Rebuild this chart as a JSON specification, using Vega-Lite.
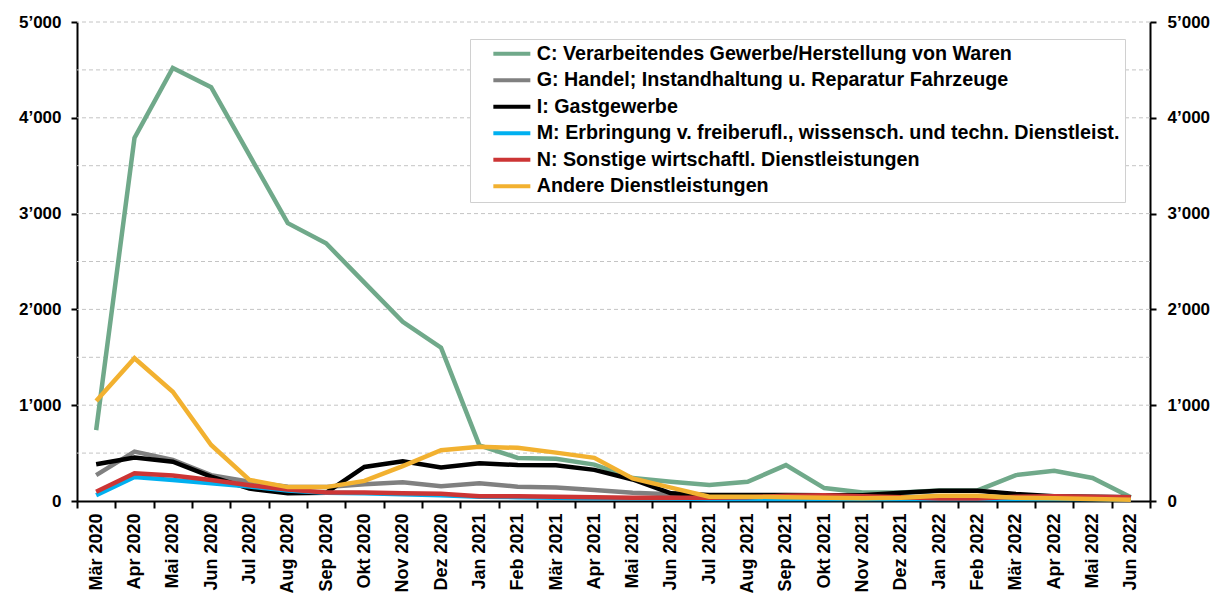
{
  "$schema": "https://vega.github.io/schema/vega-lite/v6.json",
  "width": 1073,
  "height": 479,
  "autosize": {"type": "none"},
  "padding": {"left": 77, "top": 22, "right": 77, "bottom": 95},
  "background": "white",
  "config": {
    "view": {"stroke": null},
    "font": "Liberation Sans",
    "axis": {"labelFont": "Liberation Sans", "labelFontWeight": "bold", "labelColor": "black", "domainColor": "black", "domainWidth": 2, "tickColor": "black", "tickWidth": 2, "grid": false, "title": null},
    "legend": {"labelFont": "Liberation Sans", "labelFontWeight": "bold", "labelFontSize": 19.7, "labelColor": "black"}
  },
  "datasets": {
    "grid": [{"v": 500}, {"v": 1000}, {"v": 1500}, {"v": 2000}, {"v": 2500}, {"v": 3000}, {"v": 3500}, {"v": 4000}, {"v": 4500}, {"v": 5000}],
    "main": [
      {"s": "C: Verarbeitendes Gewerbe/Herstellung von Waren", "m": "Mär 2020", "v": 740},
      {"s": "C: Verarbeitendes Gewerbe/Herstellung von Waren", "m": "Apr 2020", "v": 3790},
      {"s": "C: Verarbeitendes Gewerbe/Herstellung von Waren", "m": "Mai 2020", "v": 4520},
      {"s": "C: Verarbeitendes Gewerbe/Herstellung von Waren", "m": "Jun 2020", "v": 4320},
      {"s": "C: Verarbeitendes Gewerbe/Herstellung von Waren", "m": "Jul 2020", "v": 3610},
      {"s": "C: Verarbeitendes Gewerbe/Herstellung von Waren", "m": "Aug 2020", "v": 2900},
      {"s": "C: Verarbeitendes Gewerbe/Herstellung von Waren", "m": "Sep 2020", "v": 2690},
      {"s": "C: Verarbeitendes Gewerbe/Herstellung von Waren", "m": "Okt 2020", "v": 2280},
      {"s": "C: Verarbeitendes Gewerbe/Herstellung von Waren", "m": "Nov 2020", "v": 1870},
      {"s": "C: Verarbeitendes Gewerbe/Herstellung von Waren", "m": "Dez 2020", "v": 1600},
      {"s": "C: Verarbeitendes Gewerbe/Herstellung von Waren", "m": "Jan 2021", "v": 580},
      {"s": "C: Verarbeitendes Gewerbe/Herstellung von Waren", "m": "Feb 2021", "v": 450},
      {"s": "C: Verarbeitendes Gewerbe/Herstellung von Waren", "m": "Mär 2021", "v": 440},
      {"s": "C: Verarbeitendes Gewerbe/Herstellung von Waren", "m": "Apr 2021", "v": 380},
      {"s": "C: Verarbeitendes Gewerbe/Herstellung von Waren", "m": "Mai 2021", "v": 240},
      {"s": "C: Verarbeitendes Gewerbe/Herstellung von Waren", "m": "Jun 2021", "v": 200},
      {"s": "C: Verarbeitendes Gewerbe/Herstellung von Waren", "m": "Jul 2021", "v": 167},
      {"s": "C: Verarbeitendes Gewerbe/Herstellung von Waren", "m": "Aug 2021", "v": 200},
      {"s": "C: Verarbeitendes Gewerbe/Herstellung von Waren", "m": "Sep 2021", "v": 375},
      {"s": "C: Verarbeitendes Gewerbe/Herstellung von Waren", "m": "Okt 2021", "v": 135},
      {"s": "C: Verarbeitendes Gewerbe/Herstellung von Waren", "m": "Nov 2021", "v": 90},
      {"s": "C: Verarbeitendes Gewerbe/Herstellung von Waren", "m": "Dez 2021", "v": 90},
      {"s": "C: Verarbeitendes Gewerbe/Herstellung von Waren", "m": "Jan 2022", "v": 110},
      {"s": "C: Verarbeitendes Gewerbe/Herstellung von Waren", "m": "Feb 2022", "v": 110},
      {"s": "C: Verarbeitendes Gewerbe/Herstellung von Waren", "m": "Mär 2022", "v": 270},
      {"s": "C: Verarbeitendes Gewerbe/Herstellung von Waren", "m": "Apr 2022", "v": 315},
      {"s": "C: Verarbeitendes Gewerbe/Herstellung von Waren", "m": "Mai 2022", "v": 240},
      {"s": "C: Verarbeitendes Gewerbe/Herstellung von Waren", "m": "Jun 2022", "v": 40},
      {"s": "G: Handel; Instandhaltung u. Reparatur Fahrzeuge", "m": "Mär 2020", "v": 270},
      {"s": "G: Handel; Instandhaltung u. Reparatur Fahrzeuge", "m": "Apr 2020", "v": 515},
      {"s": "G: Handel; Instandhaltung u. Reparatur Fahrzeuge", "m": "Mai 2020", "v": 430},
      {"s": "G: Handel; Instandhaltung u. Reparatur Fahrzeuge", "m": "Jun 2020", "v": 270},
      {"s": "G: Handel; Instandhaltung u. Reparatur Fahrzeuge", "m": "Jul 2020", "v": 200},
      {"s": "G: Handel; Instandhaltung u. Reparatur Fahrzeuge", "m": "Aug 2020", "v": 150},
      {"s": "G: Handel; Instandhaltung u. Reparatur Fahrzeuge", "m": "Sep 2020", "v": 145},
      {"s": "G: Handel; Instandhaltung u. Reparatur Fahrzeuge", "m": "Okt 2020", "v": 175},
      {"s": "G: Handel; Instandhaltung u. Reparatur Fahrzeuge", "m": "Nov 2020", "v": 195},
      {"s": "G: Handel; Instandhaltung u. Reparatur Fahrzeuge", "m": "Dez 2020", "v": 155},
      {"s": "G: Handel; Instandhaltung u. Reparatur Fahrzeuge", "m": "Jan 2021", "v": 185},
      {"s": "G: Handel; Instandhaltung u. Reparatur Fahrzeuge", "m": "Feb 2021", "v": 150},
      {"s": "G: Handel; Instandhaltung u. Reparatur Fahrzeuge", "m": "Mär 2021", "v": 140},
      {"s": "G: Handel; Instandhaltung u. Reparatur Fahrzeuge", "m": "Apr 2021", "v": 115},
      {"s": "G: Handel; Instandhaltung u. Reparatur Fahrzeuge", "m": "Mai 2021", "v": 87},
      {"s": "G: Handel; Instandhaltung u. Reparatur Fahrzeuge", "m": "Jun 2021", "v": 70},
      {"s": "G: Handel; Instandhaltung u. Reparatur Fahrzeuge", "m": "Jul 2021", "v": 45},
      {"s": "G: Handel; Instandhaltung u. Reparatur Fahrzeuge", "m": "Aug 2021", "v": 40},
      {"s": "G: Handel; Instandhaltung u. Reparatur Fahrzeuge", "m": "Sep 2021", "v": 40},
      {"s": "G: Handel; Instandhaltung u. Reparatur Fahrzeuge", "m": "Okt 2021", "v": 40},
      {"s": "G: Handel; Instandhaltung u. Reparatur Fahrzeuge", "m": "Nov 2021", "v": 45},
      {"s": "G: Handel; Instandhaltung u. Reparatur Fahrzeuge", "m": "Dez 2021", "v": 40},
      {"s": "G: Handel; Instandhaltung u. Reparatur Fahrzeuge", "m": "Jan 2022", "v": 45},
      {"s": "G: Handel; Instandhaltung u. Reparatur Fahrzeuge", "m": "Feb 2022", "v": 45},
      {"s": "G: Handel; Instandhaltung u. Reparatur Fahrzeuge", "m": "Mär 2022", "v": 40},
      {"s": "G: Handel; Instandhaltung u. Reparatur Fahrzeuge", "m": "Apr 2022", "v": 40},
      {"s": "G: Handel; Instandhaltung u. Reparatur Fahrzeuge", "m": "Mai 2022", "v": 40},
      {"s": "G: Handel; Instandhaltung u. Reparatur Fahrzeuge", "m": "Jun 2022", "v": 35},
      {"s": "I: Gastgewerbe", "m": "Mär 2020", "v": 383},
      {"s": "I: Gastgewerbe", "m": "Apr 2020", "v": 455},
      {"s": "I: Gastgewerbe", "m": "Mai 2020", "v": 410},
      {"s": "I: Gastgewerbe", "m": "Jun 2020", "v": 255},
      {"s": "I: Gastgewerbe", "m": "Jul 2020", "v": 130},
      {"s": "I: Gastgewerbe", "m": "Aug 2020", "v": 80},
      {"s": "I: Gastgewerbe", "m": "Sep 2020", "v": 85},
      {"s": "I: Gastgewerbe", "m": "Okt 2020", "v": 355},
      {"s": "I: Gastgewerbe", "m": "Nov 2020", "v": 415},
      {"s": "I: Gastgewerbe", "m": "Dez 2020", "v": 350},
      {"s": "I: Gastgewerbe", "m": "Jan 2021", "v": 395},
      {"s": "I: Gastgewerbe", "m": "Feb 2021", "v": 375},
      {"s": "I: Gastgewerbe", "m": "Mär 2021", "v": 373},
      {"s": "I: Gastgewerbe", "m": "Apr 2021", "v": 325},
      {"s": "I: Gastgewerbe", "m": "Mai 2021", "v": 225},
      {"s": "I: Gastgewerbe", "m": "Jun 2021", "v": 80},
      {"s": "I: Gastgewerbe", "m": "Jul 2021", "v": 62},
      {"s": "I: Gastgewerbe", "m": "Aug 2021", "v": 62},
      {"s": "I: Gastgewerbe", "m": "Sep 2021", "v": 62},
      {"s": "I: Gastgewerbe", "m": "Okt 2021", "v": 60},
      {"s": "I: Gastgewerbe", "m": "Nov 2021", "v": 60},
      {"s": "I: Gastgewerbe", "m": "Dez 2021", "v": 87},
      {"s": "I: Gastgewerbe", "m": "Jan 2022", "v": 108},
      {"s": "I: Gastgewerbe", "m": "Feb 2022", "v": 108},
      {"s": "I: Gastgewerbe", "m": "Mär 2022", "v": 73},
      {"s": "I: Gastgewerbe", "m": "Apr 2022", "v": 50},
      {"s": "I: Gastgewerbe", "m": "Mai 2022", "v": 45},
      {"s": "I: Gastgewerbe", "m": "Jun 2022", "v": 40},
      {"s": "M: Erbringung v. freiberufl., wissensch. und techn. Dienstleist.", "m": "Mär 2020", "v": 60},
      {"s": "M: Erbringung v. freiberufl., wissensch. und techn. Dienstleist.", "m": "Apr 2020", "v": 250},
      {"s": "M: Erbringung v. freiberufl., wissensch. und techn. Dienstleist.", "m": "Mai 2020", "v": 220},
      {"s": "M: Erbringung v. freiberufl., wissensch. und techn. Dienstleist.", "m": "Jun 2020", "v": 185},
      {"s": "M: Erbringung v. freiberufl., wissensch. und techn. Dienstleist.", "m": "Jul 2020", "v": 150},
      {"s": "M: Erbringung v. freiberufl., wissensch. und techn. Dienstleist.", "m": "Aug 2020", "v": 110},
      {"s": "M: Erbringung v. freiberufl., wissensch. und techn. Dienstleist.", "m": "Sep 2020", "v": 85},
      {"s": "M: Erbringung v. freiberufl., wissensch. und techn. Dienstleist.", "m": "Okt 2020", "v": 80},
      {"s": "M: Erbringung v. freiberufl., wissensch. und techn. Dienstleist.", "m": "Nov 2020", "v": 70},
      {"s": "M: Erbringung v. freiberufl., wissensch. und techn. Dienstleist.", "m": "Dez 2020", "v": 60},
      {"s": "M: Erbringung v. freiberufl., wissensch. und techn. Dienstleist.", "m": "Jan 2021", "v": 45},
      {"s": "M: Erbringung v. freiberufl., wissensch. und techn. Dienstleist.", "m": "Feb 2021", "v": 40},
      {"s": "M: Erbringung v. freiberufl., wissensch. und techn. Dienstleist.", "m": "Mär 2021", "v": 35},
      {"s": "M: Erbringung v. freiberufl., wissensch. und techn. Dienstleist.", "m": "Apr 2021", "v": 30},
      {"s": "M: Erbringung v. freiberufl., wissensch. und techn. Dienstleist.", "m": "Mai 2021", "v": 30},
      {"s": "M: Erbringung v. freiberufl., wissensch. und techn. Dienstleist.", "m": "Jun 2021", "v": 25},
      {"s": "M: Erbringung v. freiberufl., wissensch. und techn. Dienstleist.", "m": "Jul 2021", "v": 20},
      {"s": "M: Erbringung v. freiberufl., wissensch. und techn. Dienstleist.", "m": "Aug 2021", "v": 20},
      {"s": "M: Erbringung v. freiberufl., wissensch. und techn. Dienstleist.", "m": "Sep 2021", "v": 20},
      {"s": "M: Erbringung v. freiberufl., wissensch. und techn. Dienstleist.", "m": "Okt 2021", "v": 20},
      {"s": "M: Erbringung v. freiberufl., wissensch. und techn. Dienstleist.", "m": "Nov 2021", "v": 20},
      {"s": "M: Erbringung v. freiberufl., wissensch. und techn. Dienstleist.", "m": "Dez 2021", "v": 20},
      {"s": "M: Erbringung v. freiberufl., wissensch. und techn. Dienstleist.", "m": "Jan 2022", "v": 20},
      {"s": "M: Erbringung v. freiberufl., wissensch. und techn. Dienstleist.", "m": "Feb 2022", "v": 20},
      {"s": "M: Erbringung v. freiberufl., wissensch. und techn. Dienstleist.", "m": "Mär 2022", "v": 20},
      {"s": "M: Erbringung v. freiberufl., wissensch. und techn. Dienstleist.", "m": "Apr 2022", "v": 20},
      {"s": "M: Erbringung v. freiberufl., wissensch. und techn. Dienstleist.", "m": "Mai 2022", "v": 20},
      {"s": "M: Erbringung v. freiberufl., wissensch. und techn. Dienstleist.", "m": "Jun 2022", "v": 15},
      {"s": "N: Sonstige wirtschaftl. Dienstleistungen", "m": "Mär 2020", "v": 97},
      {"s": "N: Sonstige wirtschaftl. Dienstleistungen", "m": "Apr 2020", "v": 290},
      {"s": "N: Sonstige wirtschaftl. Dienstleistungen", "m": "Mai 2020", "v": 265},
      {"s": "N: Sonstige wirtschaftl. Dienstleistungen", "m": "Jun 2020", "v": 220},
      {"s": "N: Sonstige wirtschaftl. Dienstleistungen", "m": "Jul 2020", "v": 165},
      {"s": "N: Sonstige wirtschaftl. Dienstleistungen", "m": "Aug 2020", "v": 120},
      {"s": "N: Sonstige wirtschaftl. Dienstleistungen", "m": "Sep 2020", "v": 90},
      {"s": "N: Sonstige wirtschaftl. Dienstleistungen", "m": "Okt 2020", "v": 90},
      {"s": "N: Sonstige wirtschaftl. Dienstleistungen", "m": "Nov 2020", "v": 80},
      {"s": "N: Sonstige wirtschaftl. Dienstleistungen", "m": "Dez 2020", "v": 75},
      {"s": "N: Sonstige wirtschaftl. Dienstleistungen", "m": "Jan 2021", "v": 50},
      {"s": "N: Sonstige wirtschaftl. Dienstleistungen", "m": "Feb 2021", "v": 50},
      {"s": "N: Sonstige wirtschaftl. Dienstleistungen", "m": "Mär 2021", "v": 45},
      {"s": "N: Sonstige wirtschaftl. Dienstleistungen", "m": "Apr 2021", "v": 40},
      {"s": "N: Sonstige wirtschaftl. Dienstleistungen", "m": "Mai 2021", "v": 35},
      {"s": "N: Sonstige wirtschaftl. Dienstleistungen", "m": "Jun 2021", "v": 35},
      {"s": "N: Sonstige wirtschaftl. Dienstleistungen", "m": "Jul 2021", "v": 35},
      {"s": "N: Sonstige wirtschaftl. Dienstleistungen", "m": "Aug 2021", "v": 40},
      {"s": "N: Sonstige wirtschaftl. Dienstleistungen", "m": "Sep 2021", "v": 55},
      {"s": "N: Sonstige wirtschaftl. Dienstleistungen", "m": "Okt 2021", "v": 60},
      {"s": "N: Sonstige wirtschaftl. Dienstleistungen", "m": "Nov 2021", "v": 50},
      {"s": "N: Sonstige wirtschaftl. Dienstleistungen", "m": "Dez 2021", "v": 40},
      {"s": "N: Sonstige wirtschaftl. Dienstleistungen", "m": "Jan 2022", "v": 25},
      {"s": "N: Sonstige wirtschaftl. Dienstleistungen", "m": "Feb 2022", "v": 25},
      {"s": "N: Sonstige wirtschaftl. Dienstleistungen", "m": "Mär 2022", "v": 45},
      {"s": "N: Sonstige wirtschaftl. Dienstleistungen", "m": "Apr 2022", "v": 50},
      {"s": "N: Sonstige wirtschaftl. Dienstleistungen", "m": "Mai 2022", "v": 45},
      {"s": "N: Sonstige wirtschaftl. Dienstleistungen", "m": "Jun 2022", "v": 40},
      {"s": "Andere Dienstleistungen", "m": "Mär 2020", "v": 1045},
      {"s": "Andere Dienstleistungen", "m": "Apr 2020", "v": 1490},
      {"s": "Andere Dienstleistungen", "m": "Mai 2020", "v": 1140},
      {"s": "Andere Dienstleistungen", "m": "Jun 2020", "v": 585},
      {"s": "Andere Dienstleistungen", "m": "Jul 2020", "v": 220},
      {"s": "Andere Dienstleistungen", "m": "Aug 2020", "v": 145},
      {"s": "Andere Dienstleistungen", "m": "Sep 2020", "v": 145},
      {"s": "Andere Dienstleistungen", "m": "Okt 2020", "v": 210},
      {"s": "Andere Dienstleistungen", "m": "Nov 2020", "v": 365},
      {"s": "Andere Dienstleistungen", "m": "Dez 2020", "v": 530},
      {"s": "Andere Dienstleistungen", "m": "Jan 2021", "v": 565},
      {"s": "Andere Dienstleistungen", "m": "Feb 2021", "v": 555},
      {"s": "Andere Dienstleistungen", "m": "Mär 2021", "v": 505},
      {"s": "Andere Dienstleistungen", "m": "Apr 2021", "v": 450},
      {"s": "Andere Dienstleistungen", "m": "Mai 2021", "v": 235},
      {"s": "Andere Dienstleistungen", "m": "Jun 2021", "v": 140},
      {"s": "Andere Dienstleistungen", "m": "Jul 2021", "v": 45},
      {"s": "Andere Dienstleistungen", "m": "Aug 2021", "v": 45},
      {"s": "Andere Dienstleistungen", "m": "Sep 2021", "v": 40},
      {"s": "Andere Dienstleistungen", "m": "Okt 2021", "v": 35},
      {"s": "Andere Dienstleistungen", "m": "Nov 2021", "v": 28},
      {"s": "Andere Dienstleistungen", "m": "Dez 2021", "v": 35},
      {"s": "Andere Dienstleistungen", "m": "Jan 2022", "v": 55},
      {"s": "Andere Dienstleistungen", "m": "Feb 2022", "v": 55},
      {"s": "Andere Dienstleistungen", "m": "Mär 2022", "v": 35},
      {"s": "Andere Dienstleistungen", "m": "Apr 2022", "v": 28},
      {"s": "Andere Dienstleistungen", "m": "Mai 2022", "v": 20},
      {"s": "Andere Dienstleistungen", "m": "Jun 2022", "v": 12}
    ]
  },
  "layer": [
    {
      "data": {"name": "grid"},
      "mark": {"type": "rule", "strokeDash": [4, 3], "color": "#c4c4c4", "strokeWidth": 1},
      "encoding": {
        "y": {"field": "v", "type": "quantitative", "scale": {"domain": [0, 5000], "nice": false}, "axis": null}
      }
    },
    {
      "data": {"name": "main"},
      "mark": {"type": "line", "strokeWidth": 4.5},
      "encoding": {
        "x": {
          "field": "m", "type": "ordinal", "sort": null,
          "scale": {"type": "band", "paddingInner": 0, "paddingOuter": 0},
          "axis": {"labelAngle": 270, "labelFontSize": 18, "labelPadding": 5, "tickSize": 7, "tickBand": "extent", "labelOverlap": false, "labelBound": false, "labelLimit": 200}
        },
        "y": {
          "field": "v", "type": "quantitative",
          "scale": {"domain": [0, 5000], "nice": false},
          "axis": {"orient": "left", "values": [0, 1000, 2000, 3000, 4000, 5000], "labelFontSize": 17, "tickSize": 6, "labelPadding": 10, "labelExpr": "replace(format(datum.value, ','), ',', '’')"}
        },
        "color": {
          "field": "s", "type": "nominal",
          "scale": {
            "domain": ["C: Verarbeitendes Gewerbe/Herstellung von Waren", "G: Handel; Instandhaltung u. Reparatur Fahrzeuge", "I: Gastgewerbe", "M: Erbringung v. freiberufl., wissensch. und techn. Dienstleist.", "N: Sonstige wirtschaftl. Dienstleistungen", "Andere Dienstleistungen"],
            "range": ["#70a98a", "#808080", "#000000", "#00b0f0", "#cc3535", "#f2b130"]
          },
          "legend": {
            "orient": "none", "legendX": 393, "legendY": 17, "title": null,
            "symbolType": "M-3.7,0H3.7", "symbolSize": 100, "symbolStrokeWidth": 4, "symbolFillColor": "transparent",
            "labelFont": "Liberation Sans", "labelFontWeight": "bold", "labelFontSize": 19.7, "labelColor": "black",
            "labelExpr": "datum.label + '  '",
            "labelLimit": 800, "padding": 5, "strokeColor": "#d0d0d0", "fillColor": "white",
            "symbolOffset": 27, "labelOffset": 15, "rowPadding": 5.5
          }
        }
      }
    },
    {
      "data": {"name": "main"},
      "mark": {"type": "line", "opacity": 0},
      "encoding": {
        "x": {"field": "m", "type": "ordinal", "sort": null, "scale": {"type": "band", "paddingInner": 0, "paddingOuter": 0}},
        "y": {
          "field": "v", "type": "quantitative",
          "scale": {"domain": [0, 5000], "nice": false},
          "axis": {"orient": "right", "values": [0, 1000, 2000, 3000, 4000, 5000], "labelFontSize": 17, "tickSize": 6, "labelPadding": 11, "labelExpr": "replace(format(datum.value, ','), ',', '’')"}
        },
        "detail": {"field": "s"}
      }
    }
  ],
  "resolve": {"axis": {"y": "independent"}}
}
